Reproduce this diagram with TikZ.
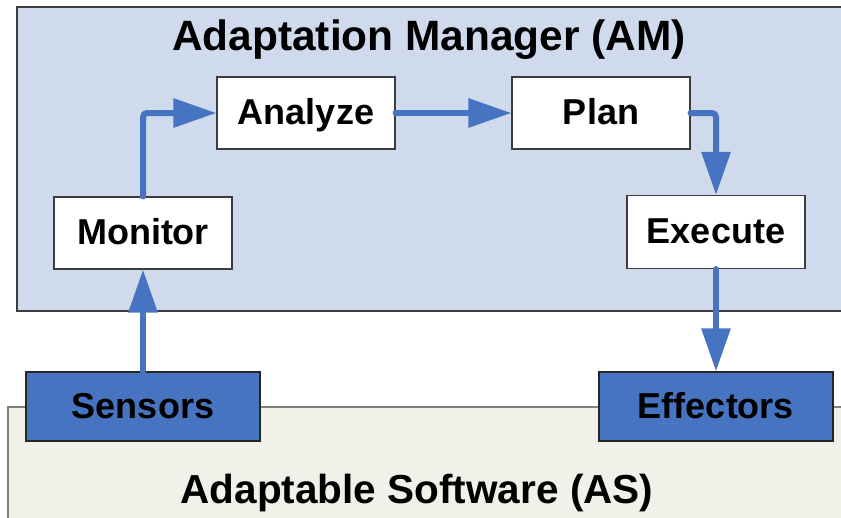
\documentclass[tikz,border=0pt]{standalone}
\usepackage{fontspec}
\setmainfont{Liberation Sans}
\usetikzlibrary{arrows.meta}

\definecolor{amfill}{RGB}{207,218,236}
\definecolor{asfill}{RGB}{241,241,234}
\definecolor{flowblue}{RGB}{70,116,193}
\definecolor{frame}{RGB}{60,60,60}

\tikzset{
  stagebox/.style={draw=frame, line width=1.2pt, fill=white, minimum width=178pt,
    minimum height=72pt, inner sep=0pt, text height=26pt, text depth=3pt,
    font=\fontsize{36}{40}\selectfont\bfseries},
  portbox/.style={stagebox, draw=black!85, fill=flowblue, minimum width=234pt,
    minimum height=69pt},
  flow/.style={draw=flowblue, line width=6pt, line cap=round, rounded corners=4pt,
    -{Triangle[length=43pt,width=28pt]}},
  title/.style={anchor=base, inner sep=0pt}
}

\begin{document}
\begin{tikzpicture}[x=1pt, y=-1pt]
  \clip (0,0) rectangle (841,517);

  % the two layers
  \draw[draw=frame, line width=1.2pt, fill=amfill] (17,7) rectangle (870,311);
  \draw[draw=gray, line width=1.2pt, fill=asfill] (8,407) rectangle (870,540);

  \node[title, font=\fontsize{42.4}{46}\selectfont\bfseries] (amtitle) at (429,50)
    {Adaptation Manager (AM)};
  \node[title, font=\fontsize{40.5}{44}\selectfont\bfseries] (astitle) at (417,503)
    {Adaptable Software (AS)};

  % MAPE stages
  \node[stagebox] (monitor) at (143,233) {Monitor};
  \node[stagebox] (analyze) at (306,113) {Analyze};
  \node[stagebox] (plan) at (601,113) {Plan};
  \node[stagebox, minimum height=73pt] (execute) at (716,232) {Execute};

  % touch points on the managed software
  \node[portbox] (sensors) at (143,406.5) {Sensors};
  \node[portbox] (effectors) at (716,406.5) {Effectors};

  % control loop
  \draw[flow] (sensors.north) -- (monitor.south);
  \draw[flow] (monitor.north) |- (analyze.west);
  \draw[flow] (analyze.east) -- (plan.west);
  \draw[flow] (plan.east) -| (execute.north);
  \draw[flow] (execute.south) -- (effectors.north);
\end{tikzpicture}
\end{document}
